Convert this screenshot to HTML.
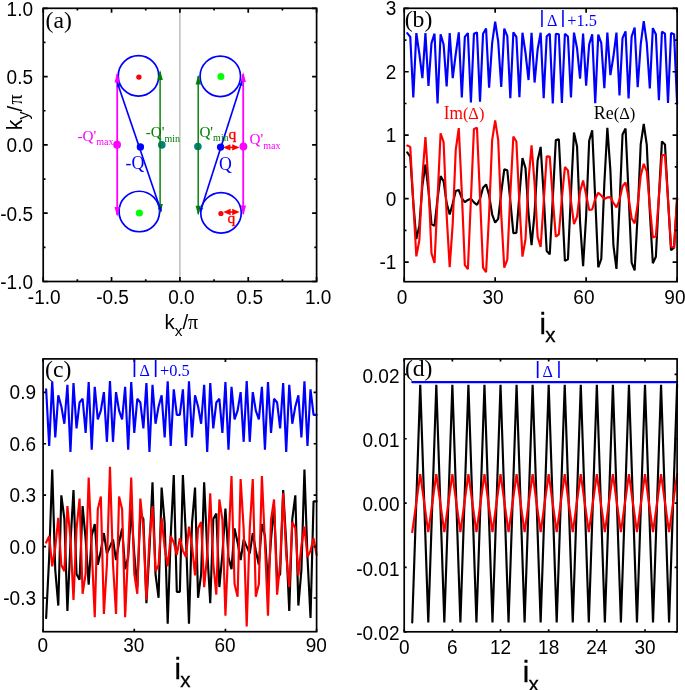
<!DOCTYPE html>
<html lang="en"><head><meta charset="utf-8"><title>Figure</title>
<style>html,body{margin:0;padding:0;background:#fff;}svg{display:block;}</style>
</head><body>
<svg width="685" height="690" viewBox="0 0 685 690">
<rect width="685" height="690" fill="#fff"/>
<g id="pa">
<line x1="179.9" y1="8.3" x2="179.9" y2="281.5" stroke="#b4b4b4" stroke-width="1.3"/>
<circle cx="138.5" cy="75.9" r="20.25" fill="none" stroke="#0000ff" stroke-width="1.7"/>
<circle cx="139.3" cy="211.5" r="20.25" fill="none" stroke="#0000ff" stroke-width="1.7"/>
<circle cx="220.3" cy="76.3" r="20.25" fill="none" stroke="#0000ff" stroke-width="1.7"/>
<circle cx="221.0" cy="212.8" r="20.25" fill="none" stroke="#0000ff" stroke-width="1.7"/>
<line x1="117.20" y1="74.00" x2="117.20" y2="215.00" stroke="#ff00ff" stroke-width="1.8"/>
<path transform="translate(117.20,72.70) rotate(-90)" d="M0 0L-9.8 2.7L-9.8 -2.7Z" fill="#ff00ff"/>
<path transform="translate(117.20,216.70) rotate(90)" d="M0 0L-9.8 2.7L-9.8 -2.7Z" fill="#ff00ff"/>
<line x1="243.20" y1="74.00" x2="243.20" y2="214.00" stroke="#ff00ff" stroke-width="1.8"/>
<path transform="translate(243.20,72.10) rotate(-90)" d="M0 0L-9.8 2.7L-9.8 -2.7Z" fill="#ff00ff"/>
<path transform="translate(243.40,215.30) rotate(90)" d="M0 0L-9.8 2.7L-9.8 -2.7Z" fill="#ff00ff"/>
<circle cx="161.8" cy="144.9" r="3.8" fill="#008080"/>
<circle cx="197.9" cy="146.5" r="3.8" fill="#008080"/>
<line x1="160.10" y1="72.00" x2="160.10" y2="212.00" stroke="#008000" stroke-width="1.45"/>
<path transform="translate(160.10,70.10) rotate(-90)" d="M0 0L-9.8 2.7L-9.8 -2.7Z" fill="#008000"/>
<path transform="translate(160.20,213.80) rotate(90)" d="M0 0L-9.8 2.7L-9.8 -2.7Z" fill="#008000"/>
<line x1="198.20" y1="76.00" x2="198.20" y2="214.00" stroke="#008000" stroke-width="1.45"/>
<path transform="translate(198.30,74.80) rotate(-90)" d="M0 0L-9.8 2.7L-9.8 -2.7Z" fill="#008000"/>
<path transform="translate(198.30,215.60) rotate(90)" d="M0 0L-9.8 2.7L-9.8 -2.7Z" fill="#008000"/>
<line x1="117.30" y1="82.60" x2="161.20" y2="211.50" stroke="#0000ff" stroke-width="1.65"/>
<path transform="translate(117.30,82.60) rotate(-108.80751250511932)" d="M0 0L-4.2 2.0L-4.2 -2.0Z" fill="#0000ff"/>
<path transform="translate(161.20,211.50) rotate(71.19248749488068)" d="M0 0L-4.2 2.0L-4.2 -2.0Z" fill="#0000ff"/>
<line x1="241.90" y1="81.50" x2="200.20" y2="212.00" stroke="#0000ff" stroke-width="1.65"/>
<path transform="translate(241.90,81.50) rotate(-72.27922750574733)" d="M0 0L-4.2 2.0L-4.2 -2.0Z" fill="#0000ff"/>
<path transform="translate(200.20,212.00) rotate(107.72077249425267)" d="M0 0L-4.2 2.0L-4.2 -2.0Z" fill="#0000ff"/>
<circle cx="138.9" cy="77.1" r="2.7" fill="#ff0000"/>
<circle cx="220.9" cy="76.6" r="3.5" fill="#00ff00"/>
<circle cx="139.4" cy="213.0" r="3.6" fill="#00ff00"/>
<circle cx="220.9" cy="213.5" r="2.6" fill="#ff0000"/>
<circle cx="117.1" cy="144.7" r="3.9" fill="#ff00ff"/>
<circle cx="140.4" cy="146.9" r="3.7" fill="#0000ff"/>
<circle cx="220.6" cy="147.1" r="3.7" fill="#0000ff"/>
<circle cx="243.4" cy="146.5" r="3.9" fill="#ff00ff"/>
<line x1="226.00" y1="147.40" x2="236.60" y2="147.40" stroke="#ff0000" stroke-width="1.6"/>
<path transform="translate(223.00,147.40) rotate(180)" d="M0 0L-7.4 3.2L-7.4 -3.2Z" fill="#ff0000"/>
<path transform="translate(239.60,147.40) rotate(0)" d="M0 0L-7.4 3.2L-7.4 -3.2Z" fill="#ff0000"/>
<line x1="226.20" y1="212.00" x2="236.60" y2="212.00" stroke="#ff0000" stroke-width="1.6"/>
<path transform="translate(223.20,212.00) rotate(180)" d="M0 0L-7.4 3.2L-7.4 -3.2Z" fill="#ff0000"/>
<path transform="translate(239.60,212.00) rotate(0)" d="M0 0L-7.4 3.2L-7.4 -3.2Z" fill="#ff0000"/>
<text x="77.50" y="140.90" font-family='"Liberation Serif", "Times New Roman", serif' font-size="15.2" fill="#ff00ff">-Q'<tspan font-size="10" dy="4.0">max</tspan></text>
<text x="145.70" y="137.10" font-family='"Liberation Serif", "Times New Roman", serif' font-size="15.2" fill="#008000">-Q'<tspan font-size="10" dy="4.4">min</tspan></text>
<text x="199.40" y="137.20" font-family='"Liberation Serif", "Times New Roman", serif' font-size="15.2" fill="#008000">Q'<tspan font-size="10" dy="4.2">min</tspan></text>
<text x="249.60" y="144.20" font-family='"Liberation Serif", "Times New Roman", serif' font-size="15.2" fill="#ff00ff">Q'<tspan font-size="10" dy="4.7">max</tspan></text>
<text x="125.50" y="169.00" font-family='"Liberation Serif", "Times New Roman", serif' font-size="17.8" text-anchor="start" fill="#0000ff">-Q</text>
<text x="218.90" y="169.80" font-family='"Liberation Serif", "Times New Roman", serif' font-size="17.8" text-anchor="start" fill="#0000ff">Q</text>
<text x="228.40" y="138.50" font-family='"Liberation Serif", "Times New Roman", serif' font-size="15.5" text-anchor="start" fill="#ff0000" stroke="#ff0000" stroke-width="0.35">q</text>
<text x="227.60" y="222.70" font-family='"Liberation Serif", "Times New Roman", serif' font-size="15.5" text-anchor="start" fill="#ff0000" stroke="#ff0000" stroke-width="0.35">q</text>
<rect x="43.20" y="8.30" width="273.40" height="273.20" fill="none" stroke="#000" stroke-width="1.7"/>
<path d="M43.20 281.50v-4.5M43.20 8.30v4.5M111.55 281.50v-4.5M111.55 8.30v4.5M179.90 281.50v-4.5M179.90 8.30v4.5M248.25 281.50v-4.5M248.25 8.30v4.5M316.60 281.50v-4.5M316.60 8.30v4.5M77.38 281.50v-2.3M77.38 8.30v2.3M145.73 281.50v-2.3M145.73 8.30v2.3M214.08 281.50v-2.3M214.08 8.30v2.3M282.43 281.50v-2.3M282.43 8.30v2.3M43.20 281.50h4.5M316.60 281.50h-4.5M43.20 213.20h4.5M316.60 213.20h-4.5M43.20 144.90h4.5M316.60 144.90h-4.5M43.20 76.60h4.5M316.60 76.60h-4.5M43.20 8.30h4.5M316.60 8.30h-4.5M43.20 247.35h2.3M316.60 247.35h-2.3M43.20 179.05h2.3M316.60 179.05h-2.3M43.20 110.75h2.3M316.60 110.75h-2.3M43.20 42.45h2.3M316.60 42.45h-2.3" stroke="#000" stroke-width="1.7" fill="none"/>
<text transform="translate(44.20,303.75) scale(0.965,1)" font-family='"Liberation Sans", Arial, sans-serif' font-size="19.7" text-anchor="middle" fill="#000">-1.0</text>
<text transform="translate(33.00,288.85) scale(0.965,1)" font-family='"Liberation Sans", Arial, sans-serif' font-size="19.7" text-anchor="end" fill="#000">-1.0</text>
<text transform="translate(112.55,303.75) scale(0.965,1)" font-family='"Liberation Sans", Arial, sans-serif' font-size="19.7" text-anchor="middle" fill="#000">-0.5</text>
<text transform="translate(33.00,220.55) scale(0.965,1)" font-family='"Liberation Sans", Arial, sans-serif' font-size="19.7" text-anchor="end" fill="#000">-0.5</text>
<text transform="translate(181.40,303.75) scale(0.965,1)" font-family='"Liberation Sans", Arial, sans-serif' font-size="19.7" text-anchor="middle" fill="#000">0.0</text>
<text transform="translate(33.00,152.25) scale(0.965,1)" font-family='"Liberation Sans", Arial, sans-serif' font-size="19.7" text-anchor="end" fill="#000">0.0</text>
<text transform="translate(249.75,303.75) scale(0.965,1)" font-family='"Liberation Sans", Arial, sans-serif' font-size="19.7" text-anchor="middle" fill="#000">0.5</text>
<text transform="translate(33.00,83.95) scale(0.965,1)" font-family='"Liberation Sans", Arial, sans-serif' font-size="19.7" text-anchor="end" fill="#000">0.5</text>
<text transform="translate(318.10,303.75) scale(0.965,1)" font-family='"Liberation Sans", Arial, sans-serif' font-size="19.7" text-anchor="middle" fill="#000">1.0</text>
<text transform="translate(33.00,15.65) scale(0.965,1)" font-family='"Liberation Sans", Arial, sans-serif' font-size="19.7" text-anchor="end" fill="#000">1.0</text>
<text x="45.60" y="28.30" font-family='"Liberation Serif", "Times New Roman", serif' font-size="23.7" text-anchor="start" fill="#000">(a)</text>
<text x="164.4" y="329" font-family='"Liberation Sans", Arial, sans-serif' font-size="20.5" fill="#000">k<tspan font-size="15.5" dy="6.5">x</tspan><tspan dy="-6.5">/</tspan><tspan font-family='"Liberation Serif", "Times New Roman", serif' font-size="20">π</tspan></text>
<text transform="translate(22.0,130.2) rotate(-90)" font-family='"Liberation Sans", Arial, sans-serif' font-size="21.5" fill="#000">k<tspan font-size="16" dy="6.5">y</tspan><tspan dy="-6.5" font-size="20.5">/</tspan><tspan font-family='"Liberation Serif", "Times New Roman", serif' font-size="20" dx="1.3">π</tspan></text>
</g>
<g id="pb">
<text x="404.70" y="27.10" font-family='"Liberation Serif", "Times New Roman", serif' font-size="23.7" text-anchor="start" fill="#000">(b)</text>
<polyline points="407.23,33.05 410.26,36.86 413.30,97.46 416.33,33.05 419.36,53.99 422.39,78.10 425.43,33.05 428.46,86.03 431.49,43.20 434.52,33.68 437.55,103.48 440.59,34.32 443.62,44.47 446.65,86.35 449.68,33.05 452.72,78.10 455.75,53.99 458.78,32.41 461.81,97.46 464.84,36.86 467.88,33.05 470.91,102.53 473.94,33.68 476.97,32.41 480.01,101.58 483.04,33.68 486.07,28.61 489.10,87.62 492.13,43.20 495.17,21.63 498.20,41.61 501.23,86.99 504.26,28.61 507.30,36.22 510.33,98.09 513.36,32.41 516.39,36.86 519.42,97.14 522.46,32.73 525.49,52.72 528.52,80.01 531.55,32.73 534.59,82.54 537.62,49.55 540.65,32.73 543.68,98.09 546.71,36.22 549.75,33.68 552.78,103.48 555.81,33.68 558.84,34.32 561.88,102.85 564.91,33.68 567.94,36.54 570.97,97.46 574.00,32.67 577.04,48.28 580.07,78.74 583.10,33.68 586.13,85.72 589.17,44.47 592.20,34.32 595.23,103.29 598.26,34.57 601.29,43.20 604.33,88.25 607.36,32.67 610.39,75.18 613.42,56.53 616.46,32.67 619.49,95.55 622.52,38.12 625.55,31.40 628.58,98.41 631.62,36.66 634.65,27.53 637.68,87.24 640.71,44.47 643.75,21.12 646.78,43.20 649.81,88.51 652.84,28.16 655.87,34.32 658.91,100.31 661.94,31.78 664.97,33.68 668.00,102.85 671.04,33.05 674.07,34.32 677.10,103.48" fill="none" stroke="#0000ff" stroke-width="2.15" stroke-linejoin="bevel" stroke-linecap="round"/>
<polyline points="407.23,152.46 410.26,156.74 413.30,202.30 416.33,239.07 419.36,225.63 422.39,185.59 425.43,164.52 428.46,190.75 431.49,224.15 434.52,225.94 437.55,198.67 440.59,176.15 443.62,181.41 446.65,203.10 449.68,214.51 452.72,203.51 455.75,190.92 458.78,190.00 461.81,198.14 464.84,202.16 467.88,199.90 470.91,198.65 473.94,202.32 476.97,204.86 480.01,198.90 483.04,187.75 486.07,184.38 489.10,195.10 492.13,214.27 495.17,222.60 498.20,218.81 501.23,192.76 504.26,169.41 507.30,170.24 510.33,201.12 513.36,233.12 516.39,232.98 519.42,195.21 522.46,158.09 525.49,168.12 528.52,213.44 531.55,245.08 534.59,212.95 537.62,160.53 540.65,146.92 543.68,194.60 546.71,250.94 549.75,254.41 552.78,198.67 555.81,140.13 558.84,139.38 561.88,199.22 564.91,260.86 567.94,259.34 570.97,193.12 574.00,132.56 577.04,146.47 580.07,222.33 583.10,266.09 586.13,215.98 589.17,140.74 592.20,130.35 595.23,198.48 598.26,267.32 601.29,258.87 604.33,183.44 607.36,127.86 610.39,170.41 613.42,245.45 616.46,268.96 619.49,206.50 622.52,134.51 625.55,128.43 628.58,193.76 631.62,262.57 634.65,270.49 637.68,213.83 640.71,144.34 643.75,124.02 646.78,144.95 649.81,211.77 652.84,263.23 655.87,256.68 658.91,196.07 661.94,141.40 664.97,144.42 668.00,199.15 671.04,250.18 674.07,247.58 677.10,198.67" fill="none" stroke="#000" stroke-width="2.15" stroke-linejoin="bevel" stroke-linecap="round"/>
<polyline points="407.23,145.51 410.26,146.89 413.30,203.48 416.33,256.36 419.36,240.18 422.39,176.91 425.43,137.06 428.46,183.12 431.49,253.30 434.52,262.92 437.55,198.67 440.59,133.27 443.62,142.23 446.65,215.22 449.68,267.30 452.72,223.58 455.75,149.78 458.78,128.13 461.81,192.66 464.84,265.21 467.88,269.09 470.91,199.62 473.94,128.96 476.97,127.87 480.01,196.78 483.04,267.61 486.07,272.17 489.10,214.13 492.13,140.44 495.17,120.39 498.20,140.17 501.23,214.07 504.26,267.59 507.30,259.63 510.33,193.86 513.36,136.51 516.39,141.55 519.42,203.99 522.46,256.63 525.49,239.21 528.52,180.42 531.55,145.27 534.59,183.35 537.62,236.81 540.65,246.92 543.68,202.21 546.71,156.34 549.75,156.66 552.78,198.67 555.81,236.69 558.84,234.29 561.88,198.36 564.91,166.98 567.94,170.37 570.97,201.02 574.00,224.05 577.04,216.64 580.07,191.43 583.10,180.60 586.13,194.67 589.17,209.93 592.20,209.49 595.23,198.69 598.26,192.66 601.29,195.51 604.33,198.93 607.36,197.43 610.39,197.19 613.42,202.76 616.46,207.30 619.49,199.91 622.52,186.20 625.55,182.45 628.58,197.35 631.62,218.20 634.65,223.39 637.68,204.49 640.71,175.61 643.75,163.86 646.78,171.30 649.81,205.93 652.84,237.46 655.87,236.34 658.91,196.85 661.94,155.52 664.97,154.74 668.00,199.08 671.04,246.70 674.07,247.57 677.10,198.67" fill="none" stroke="#ff0000" stroke-width="2.15" stroke-linejoin="bevel" stroke-linecap="round"/>
<rect x="404.20" y="8.30" width="272.90" height="273.40" fill="none" stroke="#000" stroke-width="1.7"/>
<path d="M404.20 281.70v-4.5M404.20 8.30v4.5M495.17 281.70v-4.5M495.17 8.30v4.5M586.13 281.70v-4.5M586.13 8.30v4.5M677.10 281.70v-4.5M677.10 8.30v4.5M404.20 262.12h4.5M677.10 262.12h-4.5M404.20 198.67h4.5M677.10 198.67h-4.5M404.20 135.21h4.5M677.10 135.21h-4.5M404.20 71.76h4.5M677.10 71.76h-4.5M404.20 8.30h4.5M677.10 8.30h-4.5M404.20 230.40h2.3M677.10 230.40h-2.3M404.20 166.94h2.3M677.10 166.94h-2.3M404.20 103.48h2.3M677.10 103.48h-2.3M404.20 40.03h2.3M677.10 40.03h-2.3" stroke="#000" stroke-width="1.7" fill="none"/>
<text transform="translate(402.00,303.75) scale(0.965,1)" font-family='"Liberation Sans", Arial, sans-serif' font-size="19.7" text-anchor="middle" fill="#000">0</text>
<text transform="translate(492.97,303.75) scale(0.965,1)" font-family='"Liberation Sans", Arial, sans-serif' font-size="19.7" text-anchor="middle" fill="#000">30</text>
<text transform="translate(583.93,303.75) scale(0.965,1)" font-family='"Liberation Sans", Arial, sans-serif' font-size="19.7" text-anchor="middle" fill="#000">60</text>
<text transform="translate(674.90,303.75) scale(0.965,1)" font-family='"Liberation Sans", Arial, sans-serif' font-size="19.7" text-anchor="middle" fill="#000">90</text>
<text transform="translate(396.30,269.07) scale(0.965,1)" font-family='"Liberation Sans", Arial, sans-serif' font-size="19.7" text-anchor="end" fill="#000">-1</text>
<text transform="translate(396.30,205.62) scale(0.965,1)" font-family='"Liberation Sans", Arial, sans-serif' font-size="19.7" text-anchor="end" fill="#000">0</text>
<text transform="translate(396.30,142.16) scale(0.965,1)" font-family='"Liberation Sans", Arial, sans-serif' font-size="19.7" text-anchor="end" fill="#000">1</text>
<text transform="translate(396.30,78.71) scale(0.965,1)" font-family='"Liberation Sans", Arial, sans-serif' font-size="19.7" text-anchor="end" fill="#000">2</text>
<text transform="translate(396.30,15.25) scale(0.965,1)" font-family='"Liberation Sans", Arial, sans-serif' font-size="19.7" text-anchor="end" fill="#000">3</text>
<text transform="translate(443.70,118.90) scale(0.955,1)" font-family='"Liberation Serif", "Times New Roman", serif' font-size="18.1" text-anchor="start" fill="#ff0000">Im<tspan font-size="17.2">(Δ)</tspan></text>
<text transform="translate(593.70,118.90) scale(0.955,1)" font-family='"Liberation Serif", "Times New Roman", serif' font-size="18.8" text-anchor="start" fill="#000">Re<tspan font-size="17.4">(Δ)</tspan></text>
<text transform="translate(547.00,25.80) scale(0.95,1)" font-family='"Liberation Serif", "Times New Roman", serif' font-size="17" fill="#0000ff">Δ</text>
<text transform="translate(567.20,25.80) scale(0.93,1)" font-family='"Liberation Serif", "Times New Roman", serif' font-size="17.6" fill="#0000ff">+1.5</text>
<text transform="translate(541.90,23.45)" font-family='"Liberation Sans", Arial, sans-serif' font-size="18.8" text-anchor="middle" fill="#0000ff" stroke="#0000ff" stroke-width="0.12">|</text>
<text transform="translate(562.90,23.45)" font-family='"Liberation Sans", Arial, sans-serif' font-size="18.8" text-anchor="middle" fill="#0000ff" stroke="#0000ff" stroke-width="0.12">|</text>
<text x="539.4" y="333.6" font-family='"Liberation Sans", Arial, sans-serif' font-size="29.2" fill="#000" stroke="#000" stroke-width="0.3">i<tspan font-size="20.5" dy="8.7" dx="-0.55">x</tspan></text>
</g>
<g id="pc">
<text x="45.10" y="377.00" font-family='"Liberation Serif", "Times New Roman", serif' font-size="23.7" text-anchor="start" fill="#000">(c)</text>
<polyline points="46.14,389.27 49.18,445.99 52.22,381.23 55.26,437.41 58.29,395.26 61.33,406.42 64.37,423.78 67.41,384.75 70.45,451.96 73.49,383.13 76.53,428.33 79.57,402.46 82.61,398.73 85.64,432.89 88.68,381.95 91.72,449.61 94.76,386.81 97.80,419.28 100.84,410.57 103.88,392.09 106.92,441.82 109.96,380.99 112.99,441.82 116.03,392.09 119.07,410.57 122.11,419.28 125.15,386.81 128.19,449.61 131.23,381.95 134.27,432.89 137.31,398.73 140.34,402.46 143.38,428.33 146.42,383.13 149.46,451.96 152.50,384.75 155.54,423.78 158.58,406.42 161.62,395.26 164.66,437.41 167.69,381.23 170.73,445.99 173.77,389.27 176.81,414.87 179.85,414.87 182.89,389.27 185.93,445.99 188.97,381.23 192.01,437.41 195.04,395.26 198.08,406.42 201.12,423.78 204.16,384.75 207.20,451.96 210.24,383.13 213.28,428.33 216.32,402.46 219.36,398.73 222.39,432.89 225.43,381.95 228.47,449.61 231.51,386.81 234.55,419.28 237.59,410.57 240.63,392.09 243.67,441.82 246.71,380.99 249.74,441.82 252.78,392.09 255.82,410.57 258.86,419.28 261.90,386.81 264.94,449.61 267.98,381.95 271.02,432.89 274.06,398.73 277.09,402.46 280.13,428.33 283.17,383.13 286.21,451.96 289.25,384.75 292.29,423.78 295.33,406.42 298.37,395.26 301.41,437.41 304.44,381.23 307.48,445.99 310.52,389.27 313.56,414.87 316.60,414.87" fill="none" stroke="#0000ff" stroke-width="2.15" stroke-linejoin="bevel" stroke-linecap="round"/>
<polyline points="46.14,618.07 49.18,557.18 52.22,469.45 55.26,570.02 58.29,605.56 61.33,495.32 64.37,518.82 67.41,610.97 70.45,543.24 73.49,490.01 76.53,574.08 79.57,579.74 82.61,506.10 85.64,539.10 88.68,584.68 91.72,535.80 94.76,524.02 97.80,564.70 100.84,550.72 103.88,533.04 106.92,553.68 109.96,546.58 112.99,539.48 116.03,560.12 119.07,542.43 122.11,528.45 125.15,569.13 128.19,557.36 131.23,508.48 134.27,554.06 137.31,587.06 140.34,513.42 143.38,519.07 146.42,603.15 149.46,549.92 152.50,482.18 155.54,574.34 158.58,597.84 161.62,487.59 164.66,523.13 167.69,623.70 170.73,535.98 173.77,475.08 176.81,591.82 179.85,591.82 182.89,475.08 185.93,535.98 188.97,623.70 192.01,523.13 195.04,487.59 198.08,597.84 201.12,574.34 204.16,482.18 207.20,549.92 210.24,603.15 213.28,519.07 216.32,513.42 219.36,587.06 222.39,554.06 225.43,508.48 228.47,557.36 231.51,569.13 234.55,528.45 237.59,542.43 240.63,560.12 243.67,539.48 246.71,546.58 249.74,553.68 252.78,533.04 255.82,550.72 258.86,564.70 261.90,524.02 264.94,535.80 267.98,584.68 271.02,539.10 274.06,506.10 277.09,579.74 280.13,574.08 283.17,490.01 286.21,543.24 289.25,610.97 292.29,518.82 295.33,495.32 298.37,605.56 301.41,570.02 304.44,469.45 307.48,557.18 310.52,618.07 313.56,501.33 316.60,501.33" fill="none" stroke="#000" stroke-width="2.15" stroke-linejoin="bevel" stroke-linecap="round"/>
<polyline points="46.14,542.57 49.18,536.14 52.22,566.42 55.26,547.53 58.29,517.85 61.33,564.95 64.37,571.17 67.41,505.99 70.45,538.32 73.49,599.91 76.53,529.19 79.57,498.49 82.61,593.73 85.64,573.54 88.68,477.46 91.72,549.83 94.76,617.12 97.80,509.15 100.84,496.44 103.88,614.01 106.92,564.25 109.96,466.70 112.99,564.25 116.03,614.01 119.07,496.44 122.11,509.15 125.15,617.12 128.19,549.83 131.23,477.46 134.27,573.54 137.31,593.73 140.34,498.49 143.38,529.19 146.42,599.91 149.46,538.32 152.50,505.99 155.54,571.17 158.58,564.95 161.62,517.85 164.66,547.53 167.69,566.42 170.73,536.14 173.77,542.57 176.81,554.92 179.85,538.24 182.89,550.59 185.93,557.02 188.97,526.73 192.01,545.62 195.04,575.31 198.08,528.20 201.12,521.98 204.16,587.16 207.20,554.84 210.24,493.24 213.28,563.97 216.32,594.67 219.36,499.43 222.39,519.61 225.43,615.70 228.47,543.32 231.51,476.03 234.55,584.01 237.59,596.71 240.63,479.15 243.67,528.90 246.71,626.45 249.74,528.90 252.78,479.15 255.82,596.71 258.86,584.01 261.90,476.03 264.94,543.32 267.98,615.70 271.02,519.61 274.06,499.43 277.09,594.67 280.13,563.97 283.17,493.24 286.21,554.84 289.25,587.16 292.29,521.98 295.33,528.20 298.37,575.31 301.41,545.62 304.44,526.73 307.48,557.02 310.52,550.59 313.56,538.24 316.60,554.92" fill="none" stroke="#ff0000" stroke-width="2.15" stroke-linejoin="bevel" stroke-linecap="round"/>
<rect x="43.10" y="358.90" width="273.50" height="272.80" fill="none" stroke="#000" stroke-width="1.7"/>
<path d="M43.10 631.70v-3.0M43.10 358.90v3.0M134.27 631.70v-3.0M134.27 358.90v3.0M225.43 631.70v-3.0M225.43 358.90v3.0M316.60 631.70v-3.0M316.60 358.90v3.0M43.10 598.00h3.0M316.60 598.00h-3.0M43.10 546.58h3.0M316.60 546.58h-3.0M43.10 495.15h3.0M316.60 495.15h-3.0M43.10 443.73h3.0M316.60 443.73h-3.0M43.10 392.31h3.0M316.60 392.31h-3.0" stroke="#000" stroke-width="1.7" fill="none"/>
<text transform="translate(42.70,652.25) scale(0.965,1)" font-family='"Liberation Sans", Arial, sans-serif' font-size="19.7" text-anchor="middle" fill="#000">0</text>
<text transform="translate(133.87,652.25) scale(0.965,1)" font-family='"Liberation Sans", Arial, sans-serif' font-size="19.7" text-anchor="middle" fill="#000">30</text>
<text transform="translate(225.03,652.25) scale(0.965,1)" font-family='"Liberation Sans", Arial, sans-serif' font-size="19.7" text-anchor="middle" fill="#000">60</text>
<text transform="translate(316.20,652.25) scale(0.965,1)" font-family='"Liberation Sans", Arial, sans-serif' font-size="19.7" text-anchor="middle" fill="#000">90</text>
<text transform="translate(36.00,604.95) scale(0.965,1)" font-family='"Liberation Sans", Arial, sans-serif' font-size="19.7" text-anchor="end" fill="#000">-0.3</text>
<text transform="translate(36.00,553.53) scale(0.965,1)" font-family='"Liberation Sans", Arial, sans-serif' font-size="19.7" text-anchor="end" fill="#000">0.0</text>
<text transform="translate(36.00,502.10) scale(0.965,1)" font-family='"Liberation Sans", Arial, sans-serif' font-size="19.7" text-anchor="end" fill="#000">0.3</text>
<text transform="translate(36.00,450.68) scale(0.965,1)" font-family='"Liberation Sans", Arial, sans-serif' font-size="19.7" text-anchor="end" fill="#000">0.6</text>
<text transform="translate(36.00,399.26) scale(0.965,1)" font-family='"Liberation Sans", Arial, sans-serif' font-size="19.7" text-anchor="end" fill="#000">0.9</text>
<text transform="translate(139.60,376.20) scale(0.95,1)" font-family='"Liberation Serif", "Times New Roman", serif' font-size="17" fill="#0000ff">Δ</text>
<text transform="translate(160.10,376.20) scale(0.93,1)" font-family='"Liberation Serif", "Times New Roman", serif' font-size="17.6" fill="#0000ff">+0.5</text>
<text transform="translate(134.50,373.10)" font-family='"Liberation Sans", Arial, sans-serif' font-size="18.8" text-anchor="middle" fill="#0000ff" stroke="#0000ff" stroke-width="0.12">|</text>
<text transform="translate(155.70,373.10)" font-family='"Liberation Sans", Arial, sans-serif' font-size="18.8" text-anchor="middle" fill="#0000ff" stroke="#0000ff" stroke-width="0.12">|</text>
<text x="174.4" y="678.6" font-family='"Liberation Sans", Arial, sans-serif' font-size="29.2" fill="#000" stroke="#000" stroke-width="0.3">i<tspan font-size="20.5" dy="8.7" dx="-0.55">x</tspan></text>
</g>
<g id="pd">
<text x="404.90" y="376.20" font-family='"Liberation Serif", "Times New Roman", serif' font-size="23.7" text-anchor="start" fill="#000">(d)</text>
<polyline points="412.23,622.47 420.25,384.70 428.28,622.47 436.31,384.70 444.33,622.47 452.36,384.70 460.39,622.47 468.41,384.70 476.44,622.47 484.46,384.70 492.49,622.47 500.52,384.70 508.54,622.47 516.57,384.70 524.60,622.47 532.62,384.70 540.65,622.47 548.68,384.70 556.70,622.47 564.73,384.70 572.76,622.47 580.78,384.70 588.81,622.47 596.84,384.70 604.86,622.47 612.89,384.70 620.91,622.47 628.94,384.70 636.97,622.47 644.99,384.70 653.02,622.47 661.05,384.70 669.07,622.47 677.10,384.70" fill="none" stroke="#000" stroke-width="2.15" stroke-linejoin="bevel" stroke-linecap="round"/>
<polyline points="412.23,532.06 420.25,474.14 428.28,532.06 436.31,474.14 444.33,532.06 452.36,474.14 460.39,532.06 468.41,474.14 476.44,532.06 484.46,474.14 492.49,532.06 500.52,474.14 508.54,532.06 516.57,474.14 524.60,532.06 532.62,474.14 540.65,532.06 548.68,474.14 556.70,532.06 564.73,474.14 572.76,532.06 580.78,474.14 588.81,532.06 596.84,474.14 604.86,532.06 612.89,474.14 620.91,532.06 628.94,474.14 636.97,532.06 644.99,474.14 653.02,532.06 661.05,474.14 669.07,532.06 677.10,474.14" fill="none" stroke="#ff0000" stroke-width="2.15" stroke-linejoin="bevel" stroke-linecap="round"/>
<polyline points="412.23,382.12 420.25,382.12 428.28,382.12 436.31,382.12 444.33,382.12 452.36,382.12 460.39,382.12 468.41,382.12 476.44,382.12 484.46,382.12 492.49,382.12 500.52,382.12 508.54,382.12 516.57,382.12 524.60,382.12 532.62,382.12 540.65,382.12 548.68,382.12 556.70,382.12 564.73,382.12 572.76,382.12 580.78,382.12 588.81,382.12 596.84,382.12 604.86,382.12 612.89,382.12 620.91,382.12 628.94,382.12 636.97,382.12 644.99,382.12 653.02,382.12 661.05,382.12 669.07,382.12 677.10,382.12" fill="none" stroke="#0000ff" stroke-width="2.15" stroke-linejoin="bevel" stroke-linecap="round"/>
<rect x="404.20" y="358.90" width="272.90" height="272.90" fill="none" stroke="#000" stroke-width="1.7"/>
<path d="M404.20 631.80v-2.5M404.20 358.90v2.5M452.36 631.80v-2.5M452.36 358.90v2.5M500.52 631.80v-2.5M500.52 358.90v2.5M548.68 631.80v-2.5M548.68 358.90v2.5M596.84 631.80v-2.5M596.84 358.90v2.5M644.99 631.80v-2.5M644.99 358.90v2.5M404.20 631.80h2.5M677.10 631.80h-2.5M404.20 567.45h2.5M677.10 567.45h-2.5M404.20 503.10h2.5M677.10 503.10h-2.5M404.20 438.75h2.5M677.10 438.75h-2.5M404.20 374.40h2.5M677.10 374.40h-2.5" stroke="#000" stroke-width="1.7" fill="none"/>
<text transform="translate(404.20,654.35) scale(0.965,1)" font-family='"Liberation Sans", Arial, sans-serif' font-size="19.7" text-anchor="middle" fill="#000">0</text>
<text transform="translate(452.36,654.35) scale(0.965,1)" font-family='"Liberation Sans", Arial, sans-serif' font-size="19.7" text-anchor="middle" fill="#000">6</text>
<text transform="translate(500.52,654.35) scale(0.965,1)" font-family='"Liberation Sans", Arial, sans-serif' font-size="19.7" text-anchor="middle" fill="#000">12</text>
<text transform="translate(548.68,654.35) scale(0.965,1)" font-family='"Liberation Sans", Arial, sans-serif' font-size="19.7" text-anchor="middle" fill="#000">18</text>
<text transform="translate(596.84,654.35) scale(0.965,1)" font-family='"Liberation Sans", Arial, sans-serif' font-size="19.7" text-anchor="middle" fill="#000">24</text>
<text transform="translate(644.99,654.35) scale(0.965,1)" font-family='"Liberation Sans", Arial, sans-serif' font-size="19.7" text-anchor="middle" fill="#000">30</text>
<text transform="translate(399.50,639.95) scale(0.965,1)" font-family='"Liberation Sans", Arial, sans-serif' font-size="19.7" text-anchor="end" fill="#000">-0.02</text>
<text transform="translate(399.50,575.60) scale(0.965,1)" font-family='"Liberation Sans", Arial, sans-serif' font-size="19.7" text-anchor="end" fill="#000">-0.01</text>
<text transform="translate(399.50,511.25) scale(0.965,1)" font-family='"Liberation Sans", Arial, sans-serif' font-size="19.7" text-anchor="end" fill="#000">0.00</text>
<text transform="translate(399.50,446.90) scale(0.965,1)" font-family='"Liberation Sans", Arial, sans-serif' font-size="19.7" text-anchor="end" fill="#000">0.01</text>
<text transform="translate(399.50,382.55) scale(0.965,1)" font-family='"Liberation Sans", Arial, sans-serif' font-size="19.7" text-anchor="end" fill="#000">0.02</text>
<text transform="translate(542.60,377.10) scale(0.95,1)" font-family='"Liberation Serif", "Times New Roman", serif' font-size="17" fill="#0000ff">Δ</text>
<text transform="translate(537.70,374.45)" font-family='"Liberation Sans", Arial, sans-serif' font-size="18.8" text-anchor="middle" fill="#0000ff" stroke="#0000ff" stroke-width="0.12">|</text>
<text transform="translate(558.90,374.45)" font-family='"Liberation Sans", Arial, sans-serif' font-size="18.8" text-anchor="middle" fill="#0000ff" stroke="#0000ff" stroke-width="0.12">|</text>
<text x="522.65" y="681.8" font-family='"Liberation Sans", Arial, sans-serif' font-size="29.2" fill="#000" stroke="#000" stroke-width="0.3">i<tspan font-size="20.5" dy="8.7" dx="-0.55">x</tspan></text>
</g>
</svg>
</body></html>
